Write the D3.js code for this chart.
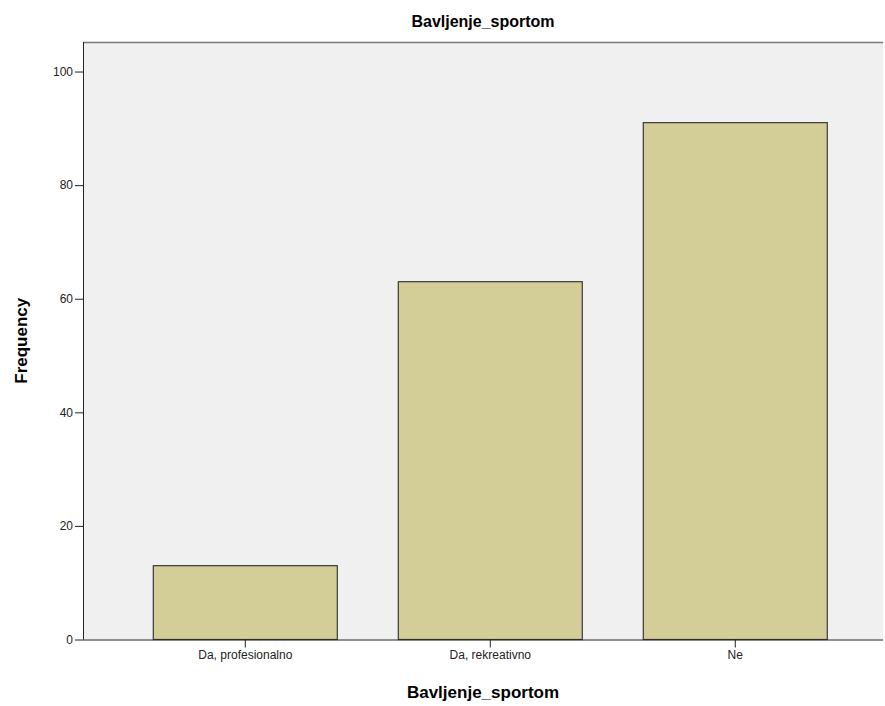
<!DOCTYPE html>
<html>
<head>
<meta charset="utf-8">
<script src="https://cdn.jsdelivr.net/npm/d3@7"></script>
<style>
  body { margin: 0; background: #fff; }
  text { font-family: "Liberation Sans", Arial, sans-serif; }
</style>
</head>
<body>
<div id="chart"></div>
<script>
var categories = ['Da, profesionalno', 'Da, rekreativno', 'Ne'];
var frequencies = [13, 63, 91];
var yTicks = [0, 20, 40, 60, 80, 100];
var chartTitle = 'Bavljenje_sportom';
var xTitle = 'Bavljenje_sportom';
var yTitle = 'Frequency';

var width = 885, height = 706;
var plotLeft = 83, plotTop = 42, plotRight = 883, plotBottom = 639.5;

var svg = d3.select('#chart').append('svg')
    .attr('width', width)
    .attr('height', height);

// band range runs past the right edge like the original (plot is cut off)
var x = d3.scaleBand()
    .domain(categories)
    .range([plotLeft, 897.6])
    .paddingInner(0.249)
    .paddingOuter(0.287);

var y = d3.scaleLinear()
    .domain([0, 105.2])
    .range([plotBottom, plotTop]);

svg.append('rect')
    .attr('x', plotLeft).attr('y', plotTop)
    .attr('width', plotRight - plotLeft).attr('height', plotBottom - plotTop)
    .style('fill', '#f0f0f0');

svg.append('line')
    .attr('x1', plotLeft).attr('x2', plotRight)
    .attr('y1', plotTop + 0.5).attr('y2', plotTop + 0.5)
    .style('stroke', '#7a7a7a').style('stroke-width', 1.5);

svg.selectAll('rect.bar')
    .data(frequencies)
    .enter()
    .append('rect')
    .attr('class', 'bar')
    .attr('x', function (d, i) { return x(categories[i]); })
    .attr('y', function (d) { return y(d); })
    .attr('width', x.bandwidth())
    .attr('height', function (d) { return plotBottom - y(d); })
    .style('fill', '#d3ce97')
    .style('stroke', '#3a3a3a')
    .style('stroke-width', 1.2);

var yAxis = svg.append('g')
    .attr('transform', 'translate(' + plotLeft + ',0)')
    .call(d3.axisLeft(y).tickValues(yTicks).tickSize(8).tickPadding(2).tickSizeOuter(0));
yAxis.select('.domain').attr('d', 'M0.5,' + plotTop + 'V' + plotBottom).style('stroke', '#222');
yAxis.selectAll('.tick line').style('stroke', '#222');
yAxis.selectAll('.tick text').style('font-size', '12px').style('fill', '#222');

var xAxis = svg.append('g')
    .attr('transform', 'translate(0,' + plotBottom + ')')
    .call(d3.axisBottom(x).tickSize(8).tickPadding(3).tickSizeOuter(0));
xAxis.select('.domain').attr('d', 'M' + plotLeft + ',0.5H' + plotRight).style('stroke', '#222');
xAxis.selectAll('.tick line').style('stroke', '#222');
xAxis.selectAll('.tick text').style('font-size', '12px').style('fill', '#222');

svg.append('text')
    .attr('x', (plotLeft + plotRight) / 2).attr('y', 27)
    .attr('text-anchor', 'middle')
    .style('font-size', '16px').style('font-weight', 'bold')
    .text(chartTitle);

svg.append('text')
    .attr('x', (plotLeft + plotRight) / 2).attr('y', 698)
    .attr('text-anchor', 'middle')
    .style('font-size', '17px').style('font-weight', 'bold')
    .text(xTitle);

svg.append('text')
    .attr('transform', 'translate(27,' + ((plotTop + plotBottom) / 2) + ') rotate(-90)')
    .attr('text-anchor', 'middle')
    .style('font-size', '17px').style('font-weight', 'bold')
    .text(yTitle);
</script>
</body>
</html>
